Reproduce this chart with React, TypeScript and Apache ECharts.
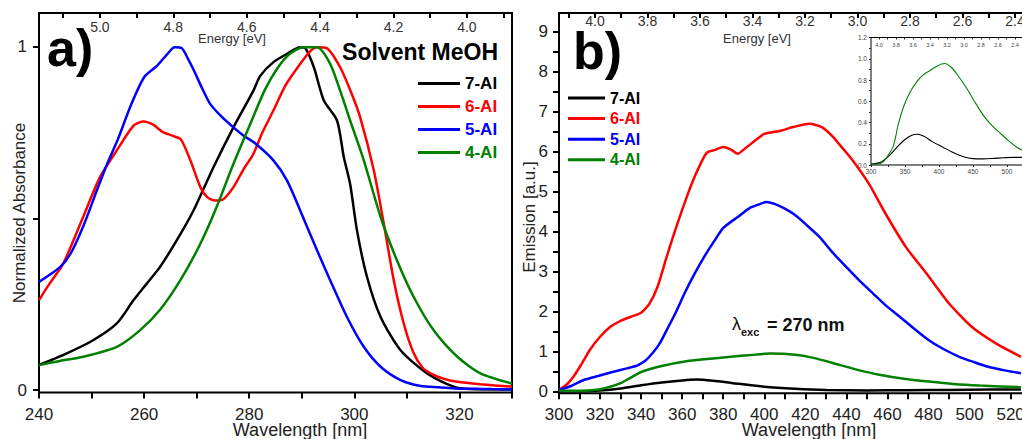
import React, { useEffect, useRef } from 'react';
import * as echarts from 'echarts';

const FONT = '"Liberation Sans", Arial, Helvetica, sans-serif';

const seriesNames = ['7-AI', '6-AI', '5-AI', '4-AI'];
const seriesColors = ['#000000', '#ff0000', '#0000ff', '#008000'];

// Panel a: absorbance (wavelength nm, normalized)
const absBlack = [[240,0.073],[245.3,0.107],[250.3,0.145],[254.8,0.194],[258,0.262],[260.5,0.31],[263,0.358],[266.2,0.436],[269.4,0.523],[273.2,0.649],[277,0.765],[280.8,0.872],[282.1,0.915],[284.6,0.955],[287.2,0.979],[289.7,0.998],[290.7,0.995],[292.3,0.94],[294.2,0.843],[296.7,0.785],[298,0.678],[299.2,0.6],[300.5,0.465],[302.4,0.33],[305,0.213],[308.8,0.116],[313.8,0.049],[318.9,0.01],[322,0.003],[330,0.002]];
const absRed = [[240,0.262],[242,0.31],[244.6,0.368],[248.4,0.504],[251.6,0.62],[254.8,0.698],[258,0.77],[259.9,0.782],[261.8,0.772],[263.5,0.752],[265.5,0.74],[267,0.73],[268.8,0.669],[270.7,0.591],[272,0.562],[273.5,0.552],[275,0.555],[277,0.591],[279,0.645],[280.8,0.688],[282.5,0.75],[284.6,0.814],[287,0.89],[289.7,0.95],[291.5,0.985],[292.9,0.998],[294.8,0.995],[297.3,0.94],[299.3,0.87],[301.1,0.795],[303.7,0.64],[305.6,0.485],[307.5,0.32],[309.4,0.194],[311.3,0.107],[313,0.065],[314.5,0.049],[317,0.033],[319.6,0.024],[324,0.017],[330,0.01]];
const absBlue = [[240,0.315],[244,0.358],[246,0.397],[248.5,0.48],[251,0.581],[253,0.66],[255,0.73],[257.5,0.83],[260,0.911],[262.5,0.945],[264.5,0.98],[265.8,0.998],[267.2,0.995],[268.5,0.96],[269.5,0.93],[271,0.88],[272.5,0.835],[274.5,0.8],[277,0.765],[279,0.74],[281,0.72],[284.6,0.669],[287.2,0.61],[289.7,0.523],[292.9,0.407],[295.4,0.32],[298.6,0.213],[301.8,0.126],[305,0.068],[308.8,0.029],[312.6,0.012],[316,0.008],[319,0.005],[323,0.004],[326,0.003],[330,0.002]];
const absGreen = [[240,0.073],[244,0.085],[248.4,0.097],[254.8,0.126],[259.2,0.174],[263,0.233],[266.9,0.32],[270.7,0.426],[273.8,0.533],[277,0.659],[280.2,0.775],[283,0.875],[285.5,0.94],[287.8,0.98],[290.3,0.998],[292.9,0.998],[295.4,0.95],[297.3,0.872],[299.2,0.785],[301.8,0.669],[305,0.504],[308.1,0.378],[311.3,0.271],[315.1,0.174],[319.6,0.097],[324,0.049],[330,0.019]];

// Panel b: emission (wavelength nm, a.u.)
const emBlack = [[300,0.02],[310,0.02],[320,0.04],[330,0.09],[340,0.17],[350,0.24],[360,0.29],[367,0.31],[375,0.28],[385,0.22],[400,0.13],[415,0.08],[430,0.05],[450,0.04],[470,0.045],[490,0.05],[510,0.06],[525,0.065]];
const emRed = [[300,0.05],[304,0.2],[307,0.38],[311,0.7],[315,1.05],[320,1.38],[325,1.63],[330,1.78],[335,1.88],[340,1.98],[344,2.2],[348,2.63],[352,3.3],[356,3.95],[360,4.55],[364,5.12],[368,5.6],[372,5.98],[376,6.05],[380,6.12],[384,6.05],[387,5.95],[391,6.1],[396,6.3],[400,6.45],[408,6.53],[414,6.62],[422,6.7],[428,6.62],[433,6.4],[438,6.1],[443,5.79],[451,5.2],[459,4.46],[469,3.62],[479,2.96],[490,2.21],[501,1.63],[513,1.21],[525,0.88]];
const emBlue = [[300,0.05],[306,0.15],[312,0.3],[319,0.4],[326,0.5],[333,0.59],[338,0.66],[342,0.78],[346,1.0],[349,1.21],[353,1.6],[357,2.0],[361,2.45],[366,2.95],[371,3.4],[376,3.8],[380,4.1],[387,4.37],[393,4.6],[397,4.68],[401,4.75],[405,4.7],[410,4.58],[415,4.42],[420,4.2],[427,3.87],[433,3.5],[440,3.12],[446,2.8],[453,2.46],[459,2.17],[466,1.88],[473,1.58],[480,1.3],[487,1.08],[495,0.88],[502,0.75],[509,0.63],[517,0.54],[525,0.47]];
const emGreen = [[300,0.03],[310,0.03],[320,0.07],[325,0.13],[330,0.22],[335,0.36],[340,0.5],[350,0.65],[362,0.77],[375,0.84],[390,0.91],[403,0.96],[415,0.93],[425,0.84],[435,0.7],[445,0.56],[456,0.43],[468,0.33],[480,0.26],[492,0.2],[505,0.16],[525,0.12]];

// Inset (normalized emission)
const insetBlack = [[300,0.01],[312,0.02],[320,0.05],[330,0.11],[340,0.18],[350,0.24],[360,0.28],[368,0.29],[378,0.27],[390,0.22],[405,0.17],[420,0.12],[435,0.08],[450,0.06],[465,0.058],[480,0.062],[495,0.068],[510,0.072],[525,0.072]];
const insetGreen = [[300,0.01],[310,0.01],[318,0.03],[326,0.1],[333,0.18],[340,0.38],[348,0.55],[357,0.68],[367,0.78],[377,0.85],[387,0.89],[397,0.93],[408,0.955],[418,0.92],[428,0.84],[440,0.73],[452,0.6],[465,0.47],[478,0.37],[490,0.3],[502,0.23],[514,0.17],[525,0.13]];

// Tick positions and labels
const absXTicks = [240,250,260,270,280,290,300,310,320,330];
const absXLabels = [240,260,280,300,320];
const absYTicks = [0,0.5,1];
const absYLabels = [0,1];
const absEvTicks = [3.9,4.0,4.1,4.2,4.3,4.4,4.5,4.6,4.7,4.8,4.9,5.0,5.1];
const absEvLabels = [4.0,4.2,4.4,4.6,4.8,5.0];
const emXTicks = [300,310,320,330,340,350,360,370,380,390,400,410,420,430,440,450,460,470,480,490,500,510,520,530,540];
const emXLabels = [300,320,340,360,380,400,420,440,460,480,500,520,540];
const emYTicks = [0,0.5,1,1.5,2,2.5,3,3.5,4,4.5,5,5.5,6,6.5,7,7.5,8,8.5,9];
const emYLabels = [0,1,2,3,4,5,6,7,8,9];
const emEvTicks = [2.3,2.4,2.5,2.6,2.7,2.8,2.9,3.0,3.1,3.2,3.3,3.4,3.5,3.6,3.7,3.8,3.9,4.0,4.1];
const emEvLabels = [2.4,2.6,2.8,3.0,3.2,3.4,3.6,3.8,4.0];
const inXTicks = [300,325,350,375,400,425,450,475,500,525,550];
const inXLabels = [300,350,400,450,500,550];
const inYTicks = [0,0.1,0.2,0.3,0.4,0.5,0.6,0.7,0.8,0.9,1.0,1.1,1.2];
const inYLabels = [0,0.2,0.4,0.6,0.8,1.0,1.2];
const inEvTicks = [2.1,2.2,2.3,2.4,2.5,2.6,2.7,2.8,2.9,3.0,3.1,3.2,3.3,3.4,3.5,3.6,3.7,3.8,3.9,4.0];
const inEvLabels = [2.2,2.4,2.6,2.8,3.0,3.2,3.4,3.6,3.8,4.0];

function axis(o: any) {
  return {
    type: 'value',
    gridIndex: o.grid,
    position: o.position,
    min: o.min,
    max: o.max,
    inverse: !!o.inverse,
    axisLine: { show: false, onZero: false },
    axisTick: {
      show: true,
      customValues: o.ticks,
      inside: !!o.inside,
      length: o.tickLen ?? 6,
      lineStyle: { color: '#000', width: o.tickWidth ?? 2 },
    },
    axisLabel: {
      show: true,
      customValues: o.labels,
      inside: !!o.inside,
      margin: o.margin ?? 12,
      fontSize: o.fontSize ?? 17,
      color: o.color ?? '#222',
      fontFamily: FONT,
      formatter: o.formatter,
    },
    splitLine: { show: false },
  };
}

const fmt1 = (v: number) => v.toFixed(1);
const fmt0 = (v: number) => String(Math.round(v));

function lineSeries(name: string, color: string, data: number[][], xi: number, yi: number, width: number, smooth: number) {
  return {
    type: 'line',
    name,
    data,
    xAxisIndex: xi,
    yAxisIndex: yi,
    showSymbol: false,
    symbol: 'none',
    smooth,
    color,
    lineStyle: { color, width },
    silent: true,
  };
}

function txt(text: string, x: number, y: number, size: number, opts: any = {}) {
  return {
    type: 'text',
    x,
    y,
    rotation: opts.rotation ?? 0,
    z: 100,
    style: {
      text,
      fontSize: size,
      fontWeight: opts.weight ?? 'normal',
      fontFamily: opts.family ?? FONT,
      fill: opts.color ?? '#111',
      align: opts.align ?? 'left',
      verticalAlign: 'middle',
    },
  };
}

export default function App() {
  const ref = useRef<HTMLDivElement>(null);
  useEffect(() => {
    const chart = echarts.init(ref.current!, null, { renderer: 'svg' });
    const absData = [absBlack, absRed, absBlue, absGreen];
    const emData = [emBlack, emRed, emBlue, emGreen];
    const option: any = {
      animation: false,
      backgroundColor: '#fff',
      textStyle: { fontFamily: FONT },
      grid: [
        { left: 39, top: 13, width: 473, height: 379.5, show: true, borderColor: '#000', borderWidth: 2 },
        { left: 559, top: 13, width: 492.7, height: 380.2, show: true, borderColor: '#000', borderWidth: 2 },
        { left: 871, top: 37.5, width: 176.8, height: 127.5, show: true, borderColor: '#000', borderWidth: 1, backgroundColor: '#fff', z: 5 },
      ],
      xAxis: [
        axis({ grid: 0, position: 'bottom', min: 240, max: 330, ticks: absXTicks, labels: absXLabels, margin: 13, formatter: fmt0 }),
        axis({ grid: 0, position: 'top', min: 3.877, max: 5.166, inverse: true, inside: true, ticks: absEvTicks, labels: absEvLabels, tickLen: 5, margin: 7, fontSize: 14, color: '#333', formatter: fmt1 }),
        axis({ grid: 1, position: 'bottom', min: 300, max: 540, ticks: emXTicks, labels: emXLabels, margin: 13, formatter: fmt0 }),
        axis({ grid: 1, position: 'top', min: 2.26, max: 4.137, inverse: true, inside: true, ticks: emEvTicks, labels: emEvLabels, tickLen: 5, margin: 1, fontSize: 14, color: '#333', formatter: fmt1 }),
        { ...axis({ grid: 2, position: 'bottom', min: 300, max: 560, ticks: inXTicks, labels: inXLabels, tickLen: 2, tickWidth: 0.8, margin: 3, fontSize: 6.5, color: '#444', formatter: fmt0 }), z: 6 },
        { ...axis({ grid: 2, position: 'top', min: 2.014, max: 4.094, inverse: true, inside: true, ticks: inEvTicks, labels: inEvLabels, tickLen: 2, tickWidth: 0.8, margin: 4, fontSize: 5.5, color: '#444', formatter: fmt1 }), z: 6 },
      ],
      yAxis: [
        axis({ grid: 0, position: 'left', min: -0.007, max: 1.098, ticks: absYTicks, labels: absYLabels, margin: 12, formatter: fmt0 }),
        axis({ grid: 1, position: 'left', min: -0.03, max: 9.47, ticks: emYTicks, labels: emYLabels, margin: 11, formatter: fmt0 }),
        { ...axis({ grid: 2, position: 'left', min: 0, max: 1.2, ticks: inYTicks, labels: inYLabels, tickLen: 2, tickWidth: 0.8, margin: 4, fontSize: 6.5, color: '#444', formatter: fmt1 }), z: 6 },
      ],
      legend: [
        {
          left: 418, top: 75, orient: 'vertical', icon: 'rect', itemWidth: 42, itemHeight: 3, itemGap: 6, padding: 0,
          selectedMode: false,
          textStyle: { fontSize: 17, fontWeight: 'bold', fontFamily: FONT },
          data: seriesNames.map((n, i) => ({ name: n, textStyle: { color: seriesColors[i] } })),
        },
        {
          left: 568, top: 90, orient: 'vertical', icon: 'rect', itemWidth: 37, itemHeight: 3, itemGap: 4.6, padding: 0,
          selectedMode: false,
          textStyle: { fontSize: 16, fontWeight: 'bold', fontFamily: FONT },
          data: seriesNames.map((n, i) => ({ name: n, textStyle: { color: seriesColors[i] } })),
        },
      ],
      series: [
        ...seriesNames.map((n, i) => lineSeries(n, seriesColors[i], absData[i], 0, 0, 2.5, 0.25)),
        ...seriesNames.map((n, i) => lineSeries(n, seriesColors[i], emData[i], 2, 1, 2.5, 0.2)),
        { ...lineSeries('7-AI inset', '#000000', insetBlack, 4, 2, 1.1, 0.3), z: 7 },
        { ...lineSeries('4-AI inset', '#008000', insetGreen, 4, 2, 1.1, 0.3), z: 7 },
      ],
      graphic: [
        txt('a)', 47, 48, 52, { weight: 'bold', color: '#000' }),
        txt('b)', 573, 51, 52, { weight: 'bold', color: '#000' }),
        txt('Solvent MeOH', 498, 52, 23, { weight: 'bold', color: '#000', align: 'right' }),
        txt('Energy [eV]', 232, 38.5, 13, { color: '#333', align: 'center' }),
        txt('Energy [eV]', 757, 38.5, 13, { color: '#333', align: 'center' }),
        txt('Wavelength [nm]', 300, 430, 18, { color: '#222', align: 'center' }),
        txt('Wavelength [nm]', 809, 430, 18, { color: '#222', align: 'center' }),
        txt('Normalized Absorbance', 19, 213, 17, { color: '#222', align: 'center', rotation: Math.PI / 2 }),
        txt('Emission [a.u.]', 529, 217, 17, { color: '#222', align: 'center', rotation: Math.PI / 2 }),
        txt('λ', 732, 324, 18, { color: '#111' }),
        txt('exc', 741, 332, 11, { color: '#111', weight: 'bold' }),
        txt('= 270 nm', 767, 325, 18, { color: '#111', weight: 'bold' }),
      ],
    };
    chart.setOption(option);
    return () => chart.dispose();
  }, []);
  return (
    <div style={{ position: 'fixed', left: 0, top: 0, width: 1022, height: 439, overflow: 'hidden', background: '#fff' }}>
      <div ref={ref} style={{ position: 'absolute', left: 0, top: 0, width: 1120, height: 439 }} />
    </div>
  );
}
